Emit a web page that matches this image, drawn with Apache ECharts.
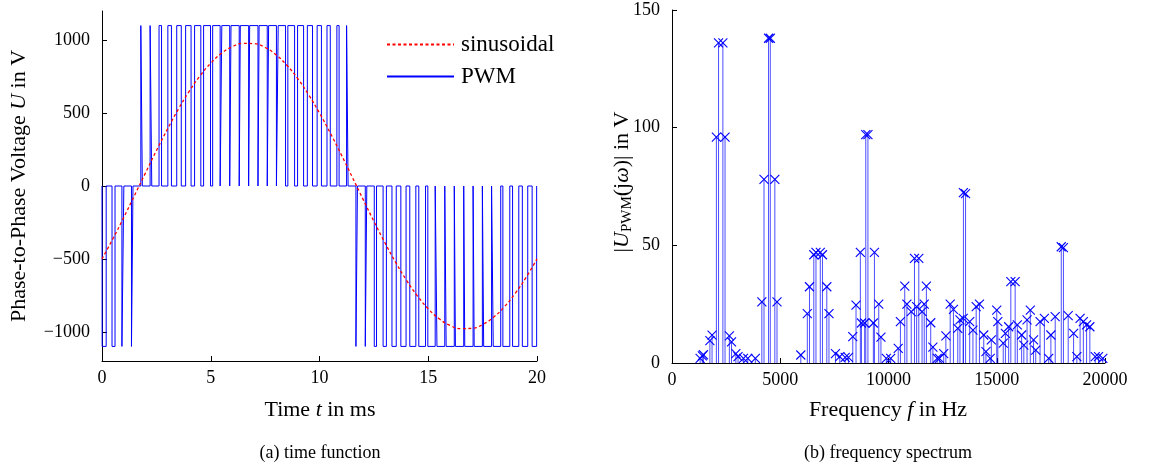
<!DOCTYPE html>
<html>
<head>
<meta charset="utf-8">
<script src="https://cdn.jsdelivr.net/npm/echarts@6/dist/echarts.min.js"></script>
<style>
html,body{margin:0;padding:0;background:#fff;}
#c{width:1149px;height:474px;}
</style>
</head>
<body>
<div id="c"></div>
<script>
// ---------- time function (a) ----------
const sineTime = [0,0.5,1,1.5,2,2.5,3,3.5,4,4.5,5,5.5,6,6.5,7,7.5,8,8.5,9,9.5,10,10.5,11,11.5,12,12.5,13,13.5,14,14.5,15,15.5,16,16.5,17,17.5,18,18.5,19,19.5,20];
const sineVolt = [-500,-362,-216,-63,90,242,387,524,647,754,842,910,956,978,976,950,900,828,736,626,500,362,215,63,-90,-242,-387,-523,-646,-753,-842,-910,-956,-978,-976,-950,-900,-828,-736,-626,-500];

// PWM pulses: centre time (ms), width (ms), level (V)
const pulseCenter = [0.10,0.53,0.96,1.39,1.82,2.25,2.68,3.11,3.54,3.97,4.40,4.83,5.26,5.69,6.12,6.55,6.98,7.41,7.84,8.27,8.70,9.13,9.56,9.99,10.42,10.85,11.28,11.71,12.14,12.57,13.00,13.43,13.86,14.29,14.72,15.15,15.58,16.01,16.44,16.87,17.30,17.73,18.16,18.59,19.02,19.45,19.88];
const pulseWidth = [0.185,0.138,0.089,0.07,0.07,0.075,0.115,0.164,0.209,0.250,0.287,0.318,0.344,0.364,0.377,0.383,0.382,0.374,0.359,0.338,0.310,0.277,0.239,0.197,0.151,0.102,0.07,0.07,0.07,0.103,0.151,0.197,0.240,0.278,0.310,0.338,0.359,0.374,0.382,0.383,0.377,0.363,0.344,0.318,0.286,0.249,0.208];
const pulseLevel = [-1100,-1100,-1100,-1100,1100,1100,1100,1100,1100,1100,1100,1100,1100,1100,1100,1100,1100,1100,1100,1100,1100,1100,1100,1100,1100,1100,1100,-1100,-1100,-1100,-1100,-1100,-1100,-1100,-1100,-1100,-1100,-1100,-1100,-1100,-1100,-1100,-1100,-1100,-1100,-1100,-1100];

const timeTicks = [0,5,10,15,20];
const voltTicks = [-1000,-500,0,500,1000];

// ---------- frequency spectrum (b) ----------
const specFreq = [1300,1400,1450,1750,1850,2050,2150,2350,2450,2650,2750,2950,3050,3300,3500,3850,4150,4250,4460,4540,4750,4850,5950,6250,6350,6550,6650,6850,6950,7150,7250,7550,7750,8000,8150,8350,8500,8700,8750,8900,8950,9050,9300,9350,9550,9650,9900,10100,10450,10550,10750,10850,11050,11200,11300,11400,11550,11650,11750,11950,12050,12250,12350,12550,12650,12850,13000,13200,13300,13450,13460,13560,13750,13900,14050,14200,14400,14500,14700,14750,15000,15050,15300,15400,15550,15650,15850,15950,16150,16250,16400,16550,16700,16800,17000,17200,17400,17500,17700,17980,18080,18300,18550,18700,18850,19000,19150,19300,19550,19700,19900];
const specAmp = [2,3,3.5,9.5,11.8,96,136,136,96,11.5,9,4,2.7,2,2,2,26,78,138,138,78,26,3.4,21,32.4,46,47,47,46,32.4,21,4,2.7,2.4,2.4,11.2,24.6,47,17,17,97,97,17,47,25,11,2,2,6.2,17.6,32.7,25,21.8,44.5,24,44.5,21.8,25,32.7,17.1,6.7,2,2,4,11.5,25,22.8,14.7,18.3,19,72.4,72,17.6,14,24,25,11.9,4.8,2,9.8,22.5,17.6,8.4,12.6,15.4,34.6,34.6,16.2,11.9,7.6,18.3,22.5,9.8,5.5,17.6,19,2,11.9,19.7,49.4,49,20.1,12.6,2.7,19,17.6,16.2,15.4,2.7,2.7,2];

const freqTicks = [0,5000,10000,15000,20000];
const ampTicks = [0,50,100,150];

// ---------- build series data ----------
const sineData = sineTime.map((t,i)=>[t,sineVolt[i]]);
const pwmData = [[0,0]];
for (let i=0;i<pulseCenter.length;i++){
  const s = pulseCenter[i]-pulseWidth[i]/2, e = pulseCenter[i]+pulseWidth[i]/2;
  pwmData.push([s,0],[s,pulseLevel[i]],[e,pulseLevel[i]],[e,0]);
}
pwmData.push([20,0]);
const specData = specFreq.map((f,i)=>[f,specAmp[i]]);

const FONT = 'Liberation Serif';
const TXT = {color:'#000', fontFamily:FONT, fontSize:18};
const minus = v => v<0 ? '\u2212'+(-v) : String(v);

function axisBase(ticks){
  return {
    axisLine:{show:true,onZero:false,lineStyle:{color:'#000',width:1}},
    axisTick:{show:true,inside:true,length:5,lineStyle:{color:'#000'},customValues:ticks},
    splitLine:{show:false},
    axisLabel:Object.assign({},TXT,{formatter:minus,customValues:ticks})
  };
}

const chart = echarts.init(document.getElementById('c'), null, {renderer:'canvas'});
function mkRich(fs){
  return {
    i:{fontFamily:FONT,fontSize:fs,fontStyle:'italic',lineHeight:fs+4},
    s:{fontFamily:FONT,fontSize:Math.round(fs*0.68),verticalAlign:'bottom',lineHeight:Math.round(fs*0.68)}
  };
}
function label(x,y,text,fs,rot){
  return {type:'text',x:x,y:y,rotation:rot||0,silent:true,
    style:{text:text,fontFamily:FONT,fontSize:fs,fill:'#000',align:'center',verticalAlign:'middle',lineHeight:fs+4,rich:mkRich(fs)}};
}

chart.setOption({
  animation:false,
  backgroundColor:'#fff',
  grid:[
    {left:102,top:11,width:435,height:350},
    {left:672,top:10,width:433,height:353}
  ],
  legend:{
    data:['sinusoidal','PWM'],
    orient:'vertical', left:381, top:28, itemWidth:67, itemHeight:14, itemGap:9,
    itemStyle:{opacity:0},
    textStyle:{color:'#000',fontFamily:FONT,fontSize:23,padding:[0,0,0,2]},
    selectedMode:false
  },
  xAxis:[
    Object.assign(axisBase(timeTicks),{type:'value',gridIndex:0,min:0,max:20,interval:5}),
    Object.assign(axisBase(freqTicks),{type:'value',gridIndex:1,min:0,max:20000,interval:5000})
  ],
  yAxis:[
    (function(){const a=axisBase(voltTicks);
      a.type='value';a.gridIndex=0;a.min=-1200;a.max=1200;a.axisLabel.margin=12;return a;})(),
    (function(){const a=axisBase(ampTicks);
      a.type='value';a.gridIndex=1;a.min=0;a.max=150;a.interval=50;a.axisLabel.margin=12;return a;})()
  ],
  series:[
    {name:'PWM',type:'line',xAxisIndex:0,yAxisIndex:0,data:pwmData,showSymbol:false,symbol:'none',
     sampling:null,lineStyle:{color:'#0000ff',width:1},itemStyle:{color:'#0000ff'},z:2},
    {name:'sinusoidal',type:'line',xAxisIndex:0,yAxisIndex:0,data:sineData,smooth:true,showSymbol:false,symbol:'none',
     lineStyle:{color:'#ff0000',width:1.3,type:[3,2.5]},itemStyle:{color:'#ff0000'},z:3},
    {name:'spectrum',type:'custom',xAxisIndex:1,yAxisIndex:1,data:specData,encode:{x:0,y:1},clip:false,
     renderItem:function(params,api){
       const f=api.value(0), v=api.value(1);
       const p0=api.coord([f,0]), p1=api.coord([f,v]);
       const s=4.5;
       return {type:'group',children:[
         {type:'line',shape:{x1:p0[0],y1:p0[1],x2:p1[0],y2:p1[1]},style:{stroke:'rgba(0,0,255,0.7)',lineWidth:1}},
         {type:'line',shape:{x1:p1[0]-s,y1:p1[1]-s,x2:p1[0]+s,y2:p1[1]+s},style:{stroke:'#0000ff',lineWidth:1.1}},
         {type:'line',shape:{x1:p1[0]-s,y1:p1[1]+s,x2:p1[0]+s,y2:p1[1]-s},style:{stroke:'#0000ff',lineWidth:1.1}}
       ]};
     }}
  ],
  graphic:[
    label(320,410,'Time {i|t} in ms',22),
    label(888,410,'Frequency {i|f} in Hz',22),
    label(19,186,'Phase-to-Phase Voltage {i|U} in V',22,Math.PI/2),
    label(622,182,'|{i|U}{s|PWM}(j{i|ω})| in V',22,Math.PI/2),
    label(320,453,'(a) time function',18),
    label(888,453,'(b) frequency spectrum',18)
  ]
});
</script>
</body>
</html>
